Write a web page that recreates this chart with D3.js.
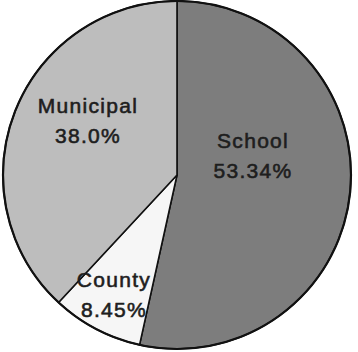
<!DOCTYPE html>
<html>
<head>
<meta charset="utf-8">
<script src="https://cdn.jsdelivr.net/npm/d3@7"></script>
<style>
  html, body { margin: 0; padding: 0; background: #fff; }
</style>
</head>
<body>
<svg id="chart" width="358" height="352"></svg>
<script>
// slices in clockwise order from 12 o'clock
const categories = ["School", "County", "Municipal"];
const shares = [53.34, 8.45, 38.0];
const shareLabels = ["53.34%", "8.45%", "38.0%"];

const fills = { School: "#7d7d7d", County: "#f6f6f6", Municipal: "#bdbdbd" };
// label placement: radius as fraction of r, and angle nudge (degrees)
const labelPlace = {
  School: { k: 0.45, nudge: -20 },
  County: { k: 0.78, nudge: 0 },
  Municipal: { k: 0.6, nudge: 10 }
};

const svg = d3.select("#chart");
const cx = 177, cy = 175, r = 174;

const data = categories.map((c, i) => ({ name: c, value: shares[i], label: shareLabels[i] }));

const pie = d3.pie().sort(null).value((d) => d.value);
const arc = d3.arc().innerRadius(0).outerRadius(r);
const arcs = pie(data);

const g = svg.append("g").attr("transform", "translate(" + cx + "," + cy + ")");

g.selectAll("path.slice")
  .data(arcs)
  .enter()
  .append("path")
  .attr("class", "slice")
  .attr("d", arc)
  .attr("fill", (d) => fills[d.data.name])
  .attr("stroke", "#111")
  .attr("stroke-width", 1.6)
  .attr("stroke-linejoin", "round");

// outer rim a bit heavier
g.append("circle")
  .attr("r", r)
  .attr("fill", "none")
  .attr("stroke", "#111")
  .attr("stroke-width", 2.2);

const labels = g.selectAll("g.lbl")
  .data(arcs)
  .enter()
  .append("g")
  .attr("class", "lbl")
  .attr("transform", (d) => {
    const p = labelPlace[d.data.name];
    const a = (d.startAngle + d.endAngle) / 2 + (p.nudge * Math.PI) / 180;
    const rr = r * p.k;
    return "translate(" + rr * Math.sin(a) + "," + -rr * Math.cos(a) + ")";
  });

labels.append("text")
  .attr("y", -8)
  .text((d) => d.data.name);

labels.append("text")
  .attr("y", 22)
  .text((d) => d.data.label);

labels.selectAll("text")
  .attr("text-anchor", "middle")
  .attr("font-family", "'Liberation Sans', Arial, sans-serif")
  .attr("font-size", "21px")
  .attr("letter-spacing", "1.3px")
  .attr("fill", "#1e1e1e")
  .attr("stroke", "#1e1e1e")
  .attr("stroke-width", 0.6);
</script>
</body>
</html>
